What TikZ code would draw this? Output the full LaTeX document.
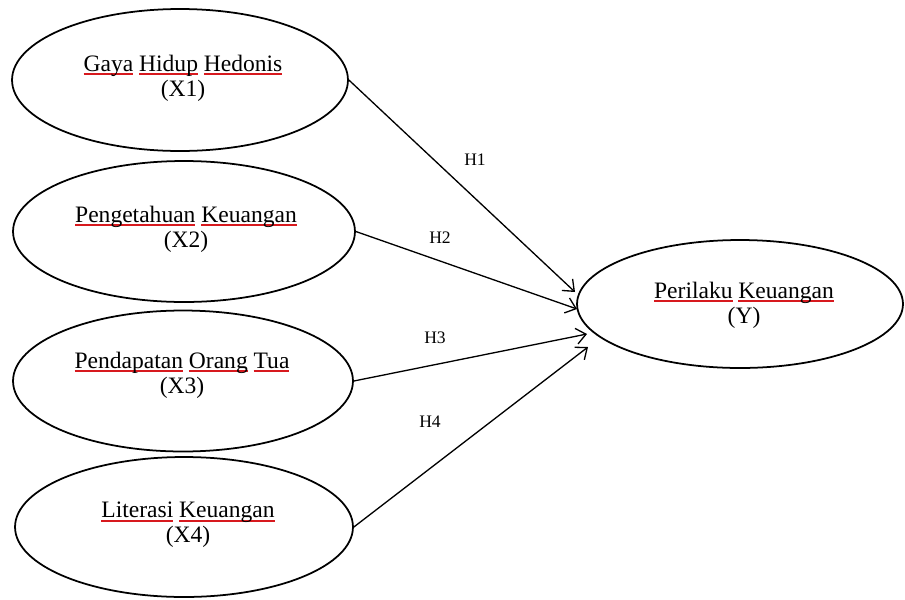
\documentclass[tikz,border=0pt]{standalone}
\usepackage{fontspec}
\setmainfont{Liberation Serif}
\usetikzlibrary{shapes.geometric,arrows.meta}
\definecolor{ulred}{RGB}{215,25,30}
\newlength\rulw
\newcommand\redw[1]{\settowidth\rulw{#1}\textcolor{ulred}{\rlap{\rule[-2.4pt]{\rulw}{1.2pt}}}#1}
\begin{document}
\begin{tikzpicture}[x=0.02cm,y=-0.02cm,
  ell/.style={draw, ellipse, line width=1pt, inner sep=0pt},
  vtext/.style={align=center, font=\fontsize{13.4}{14.2}\selectfont, inner sep=0pt},
  hlab/.style={font=\fontsize{10}{12}\selectfont, inner sep=0pt},
  conn/.style={line width=0.75pt, -{Straight Barb[length=5.5pt,width=9pt]}}]
\useasboundingbox (0,0) rectangle (905,599);
\fill[white] (0,0) rectangle (905,599);
% ellipses
\node[ell, minimum width=6.72cm, minimum height=2.84cm] (X1) at (180,80) {};
\node[ell, minimum width=6.84cm, minimum height=2.82cm] (X2) at (184,231.5) {};
\node[ell, minimum width=6.80cm, minimum height=2.82cm] (X3) at (183,381) {};
\node[ell, minimum width=6.76cm, minimum height=2.80cm] (X4) at (184,527) {};
\node[ell, minimum width=6.52cm, minimum height=2.56cm] (Y) at (740,304) {};
% texts
\node[vtext] (X1t) at (183,78) {\redw{Gaya} \redw{Hidup} \redw{Hedonis}\\(X1)};
\node[vtext] (X2t) at (186,229) {\redw{Pengetahuan} \redw{Keuangan}\\(X2)};
\node[vtext] (X3t) at (182,375) {\redw{Pendapatan} \redw{Orang} \redw{Tua}\\(X3)};
\node[vtext] (X4t) at (188,525) {\redw{Literasi} \redw{Keuangan}\\(X4)};
\node[vtext] (Yt) at (744,305) {\redw{Perilaku} \redw{Keuangan}\\(Y)};
% arrow tips
\coordinate (t1) at (575,292);
\coordinate (t2) at (577,309);
\coordinate (t3) at (587,334);
\coordinate (t4) at (588,347);
\draw[conn] (X1.east) -- (t1);
\draw[conn] (X2.east) -- (t2);
\draw[conn] (X3.east) -- (t3);
\draw[conn] (X4.east) -- (t4);
% labels
\node[hlab] (h1) at (475,160) {H1};
\node[hlab] (h2) at (440,238) {H2};
\node[hlab] (h3) at (435,338) {H3};
\node[hlab] (h4) at (430,422) {H4};
\end{tikzpicture}
\end{document}
